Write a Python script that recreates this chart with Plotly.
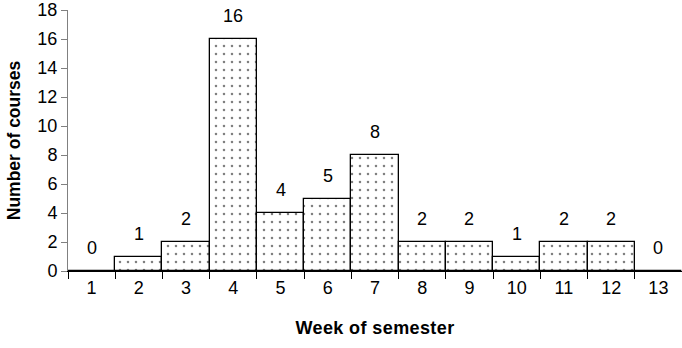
import plotly.graph_objects as go

weeks = ["1", "2", "3", "4", "5", "6", "7", "8", "9", "10", "11", "12", "13"]
courses = [0, 1, 2, 16, 4, 5, 8, 2, 2, 1, 2, 2, 0]
y_ticks = [0, 2, 4, 6, 8, 10, 12, 14, 16, 18]

FONT = "Liberation Sans, Arial, sans-serif"

fig = go.Figure()
fig.add_trace(go.Bar(
    x=weeks, y=courses,
    width=1,
    marker=dict(
        color="white",
        line=dict(color="black", width=1.3),
        pattern=dict(shape=".", fgcolor="black", bgcolor="white", size=8, solidity=0.08, fillmode="overlay"),
    ),
    showlegend=False,
))

for i, c in enumerate(courses):
    fig.add_annotation(x=i, y=c, text=str(c), showarrow=False, yshift=23,
                       font=dict(family=FONT, size=18, color="black"))

fig.update_layout(
    width=682, height=348,
    margin=dict(l=68, r=0, t=8, b=77),
    plot_bgcolor="white", paper_bgcolor="white",
    bargap=0,
    font=dict(family=FONT, size=18, color="black"),
)
fig.update_xaxes(
    type="category", tickson="boundaries", ticks="outside", ticklen=7, tickcolor="black",
    showline=True, linecolor="black", linewidth=1, showgrid=False,
    tickfont=dict(size=18),
    title=dict(text="<b><span style='letter-spacing:0.4px'>Week of semester</span></b>",
               font=dict(size=18), standoff=24),
)
fig.update_yaxes(
    range=[0, 18], tickvals=y_ticks, ticks="outside", ticklen=6, tickcolor="#808080",
    showline=True, linecolor="#808080", linewidth=1, showgrid=False, zeroline=False,
    tickfont=dict(size=18), ticklabeloverflow="allow",
    title=dict(text="<b>Number of courses</b>", font=dict(size=17.5), standoff=12),
)

fig.write_html("out.html")
